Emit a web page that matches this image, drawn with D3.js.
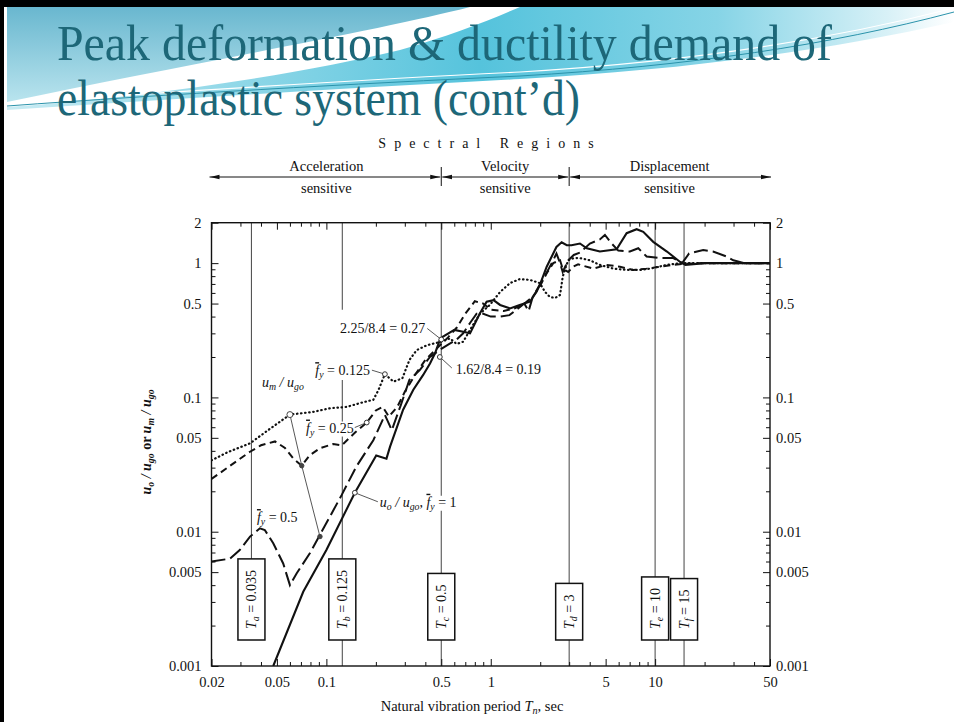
<!DOCTYPE html>
<html>
<head>
<meta charset="utf-8">
<script src="https://cdn.jsdelivr.net/npm/d3@7/dist/d3.min.js"></script>
<style>
body { margin: 0; background: #fff; }
svg { display: block; }
text { font-family: "Liberation Serif", "Times New Roman", serif; fill: #111; }
</style>
</head>
<body>
<script>
// tick labels
var xTickLabels = [0.02, 0.05, 0.1, 0.5, 1, 5, 10, 50];
var yTickLabels = [0.001, 0.005, 0.01, 0.05, 0.1, 0.5, 1, 2];

// spectral regions (split at Tc and Td)
var regionBounds = [0.5, 3];
var regionTop = ["Acceleration", "Velocity", "Displacement"];
var regionBottom = ["sensitive", "sensitive", "sensitive"];

// periods marked on the chart
var periodNames = ["a", "b", "c", "d", "e", "f"];
var periodValues = [0.035, 0.125, 0.5, 3, 10, 15];
var periodLabels = ["0.035", "0.125", "0.5", "3", "10", "15"];

// curves: [Tn (sec), deformation ratio]
// u_o / u_go, fy = 1 (solid)
var elastic = [[0.0475,0.001],[0.0723,0.00357],[0.10,0.0073],[0.149,0.0195],[0.201,0.037],[0.232,0.035],
  [0.244,0.043],[0.293,0.081],[0.338,0.114],[0.388,0.147],[0.427,0.179],[0.458,0.213],[0.49,0.267],[0.51,0.283],
  [0.60,0.318],[0.68,0.308],[0.748,0.30],[0.86,0.423],[0.944,0.516],[1.04,0.53],[1.14,0.488],[1.31,0.46],
  [1.5,0.488],[1.73,0.516],[1.90,0.612],[1.99,0.69],[2.19,0.94],[2.51,1.32],[2.70,1.43],[2.90,1.36],[3.10,1.36],
  [3.49,1.40],[3.84,1.29],[4.61,1.22],[5.83,1.27],[6.71,1.67],[7.72,1.79],[8.47,1.71],[9.74,1.44],[11.8,1.22],
  [14.2,1.02],[15.3,0.97],[20,1.0],[50,1.0]];
// u_m / u_go, fy = 0.5 (long dash)
var fy050 = [[0.02,0.006],[0.0259,0.0063],[0.0297,0.0073],[0.0343,0.0092],[0.0394,0.0106],[0.0422,0.0103],
  [0.0475,0.0082],[0.0546,0.0058],[0.060,0.004],[0.066,0.0049],[0.0793,0.0069],[0.10,0.0116],[0.124,0.0188],
  [0.152,0.0305],[0.193,0.048],[0.227,0.074],[0.25,0.057],[0.283,0.087],[0.32,0.135],[0.37,0.16],[0.427,0.20],
  [0.5,0.23],[0.56,0.25],[0.62,0.27],[0.68,0.3],[0.75,0.36],[0.82,0.42],[0.9,0.42],[1.0,0.4],[1.15,0.4],
  [1.3,0.41],[1.5,0.47],[1.6,0.5],[1.7,0.44],[1.8,0.56],[2.0,0.7],[2.2,0.86],[2.4,1.05],[2.51,1.18],[2.64,1.0],
  [2.74,0.86],[2.96,1.05],[3.2,1.15],[3.5,1.2],[4.01,1.40],[4.61,1.5],[4.95,1.62],[5.44,1.40],[5.97,1.24],
  [7.03,1.22],[7.9,1.29],[8.88,1.12],[10.7,1.09],[12.9,1.09],[14.6,1.0],[16.1,1.18],[19.6,1.25],[22.5,1.22],
  [27.2,1.12],[29.9,1.05],[35,1.0],[50,1.0]];
// u_m / u_go, fy = 0.25 (short dash)
var fy025 = [[0.02,0.0247],[0.026,0.031],[0.0343,0.0394],[0.04,0.044],[0.0487,0.047],[0.056,0.042],[0.063,0.035],
  [0.0708,0.031],[0.079,0.037],[0.0914,0.0418],[0.11,0.045],[0.124,0.044],[0.15,0.055],[0.176,0.065],[0.2,0.08],
  [0.22,0.085],[0.24,0.072],[0.27,0.085],[0.3,0.11],[0.35,0.15],[0.4,0.19],[0.45,0.22],[0.5,0.25],[0.55,0.28],
  [0.62,0.33],[0.7,0.42],[0.8,0.52],[0.9,0.5],[1.0,0.45],[1.2,0.44],[1.4,0.46],[1.6,0.5],[1.8,0.56],[2.0,0.68],
  [2.2,0.85],[2.4,1.0],[2.64,1.05],[2.74,0.91],[2.96,0.86],[3.17,0.94],[3.4,0.98],[4.21,0.91],[5.06,0.97],
  [6.11,0.94],[7.36,0.89],[8.88,0.91],[10.7,0.94],[12.9,0.97],[15,0.99],[20,1.0],[50,1.0]];
// u_m / u_go, fy = 0.125 (dotted)
var fy0125 = [[0.02,0.034],[0.025,0.039],[0.0343,0.0455],[0.045,0.058],[0.06,0.0745],[0.083,0.078],[0.105,0.083],
  [0.133,0.085],[0.167,0.092],[0.193,0.096],[0.207,0.113],[0.227,0.149],[0.256,0.131],[0.29,0.139],[0.32,0.19],
  [0.354,0.225],[0.41,0.245],[0.5,0.26],[0.565,0.275],[0.62,0.25],[0.68,0.26],[0.75,0.32],[0.86,0.42],
  [0.99,0.49],[1.14,0.61],[1.31,0.71],[1.5,0.76],[1.73,0.75],[1.99,0.71],[2.14,0.61],[2.29,0.56],[2.46,0.55],
  [2.64,0.58],[2.74,0.79],[2.84,0.91],[2.96,1.05],[3.2,1.09],[3.49,1.09],[4.01,1.05],[4.61,0.97],[5.57,0.91],
  [6.71,0.89],[8.09,0.89],[9.3,0.91],[11.8,0.97],[14.2,1.0],[50,1.0]];

// thin line joining the three yield cases at short period
var connector = [[0.06,0.0745],[0.0708,0.031],[0.0914,0.0092]];
// labelled points
var ptFy0125 = [0.227, 0.149];
var ptFy025 = [0.176, 0.065];
var ptFy1 = [0.149, 0.0195];
var ptRatio027 = [0.5, 0.27];
var ptRatio019 = [0.49, 0.2];

var W = 954, H = 722;
var margin = { top: 222.7, right: 184, bottom: 56, left: 211.5 },
    width = W - margin.left - margin.right,
    height = H - margin.top - margin.bottom;

var svg = d3.select("body").append("svg").attr("width", W).attr("height", H);
var defs = svg.append("defs");

// ---- slide decoration ----
var gl = defs.append("linearGradient").attr("id", "gLeft").attr("x1", 0).attr("y1", 0).attr("x2", 0).attr("y2", 1);
gl.append("stop").attr("offset", 0).attr("stop-color", "#69b7cf");
gl.append("stop").attr("offset", 1).attr("stop-color", "#b9e4ee");
var gr = defs.append("linearGradient").attr("id", "gRight").attr("x1", 0).attr("y1", 0).attr("x2", 1).attr("y2", 0);
gr.append("stop").attr("offset", 0).attr("stop-color", "#c8ebf3");
gr.append("stop").attr("offset", 0.5).attr("stop-color", "#55c3dc");
gr.append("stop").attr("offset", 0.75).attr("stop-color", "#86d4e6");
gr.append("stop").attr("offset", 0.93).attr("stop-color", "#d8f1f7");
gr.append("stop").attr("offset", 1).attr("stop-color", "#ffffff");

svg.append("path")
    .attr("d", "M7,7 L470,7 C380,30 200,62 7,102 Z")
    .attr("fill", "url(#gLeft)");
svg.append("path")
    .attr("d", "M520,7 L954,7 L954,22 C820,52 680,70 520,79 C350,88 170,99 7,110 L7,107 C150,97 300,74 400,50 C450,36 490,20 520,7 Z")
    .attr("fill", "url(#gRight)");
svg.append("path")
    .attr("d", "M7,106 C170,94 350,84 520,76 C690,66 830,45 954,12")
    .attr("fill", "none").attr("stroke", "#2b93ab").attr("stroke-width", 1);
svg.append("path")
    .attr("d", "M7,103 C170,92 350,80 520,72 C690,62 830,40 954,8")
    .attr("fill", "none").attr("stroke", "#ffffff").attr("stroke-width", 1.2);

// border
svg.append("rect").attr("x", 0).attr("y", 0).attr("width", W).attr("height", 7).attr("fill", "#000");
svg.append("rect").attr("x", 0).attr("y", 0).attr("width", 4).attr("height", H).attr("fill", "#000");

// title
svg.append("text").attr("x", 57).attr("y", 60)
    .attr("font-size", 50).attr("textLength", 775).attr("lengthAdjust", "spacingAndGlyphs")
    .style("fill", "#1d6778")
    .text("Peak deformation & ductility demand of");
svg.append("text").attr("x", 57).attr("y", 115)
    .attr("font-size", 50).attr("textLength", 523).attr("lengthAdjust", "spacingAndGlyphs")
    .style("fill", "#1d6778")
    .text("elastoplastic system (cont\u2019d)");

// ---- chart ----
var x = d3.scaleLog().domain([0.02, 50]).range([0, width]);
var y = d3.scaleLog().domain([0.001, 2]).range([height, 0]);

var g = svg.append("g").attr("transform", "translate(" + margin.left + "," + margin.top + ")");

// rich text helper: parts = [text, flags]  i=italic s=subscript o=overline
function rich(t, parts) {
    var shift = 0;
    parts.forEach(function (p) {
        var f = p[1] || "";
        var ts = t.append("tspan").text(p[0]);
        if (f.indexOf("i") >= 0) ts.attr("font-style", "italic");
        if (f.indexOf("o") >= 0) ts.style("text-decoration", "overline");
        var target = f.indexOf("s") >= 0 ? 3 : 0;
        if (target !== shift) { ts.attr("dy", target - shift); shift = target; }
        if (f.indexOf("s") >= 0) ts.attr("font-size", "0.7em");
    });
    return t;
}

// spectral regions header
var hdr = svg.append("g");
var bx = [x.range()[0], x(regionBounds[0]), x(regionBounds[1]), x.range()[1]].map(function (v) { return v + margin.left; });
var arrowY = 177;
defs.append("marker").attr("id", "ah").attr("viewBox", "0 0 10 6").attr("refX", 10).attr("refY", 3)
    .attr("markerWidth", 10).attr("markerHeight", 6).attr("markerUnits", "userSpaceOnUse")
    .attr("orient", "auto-start-reverse")
    .append("path").attr("d", "M0,0.8 L10,3 L0,5.2 Z").attr("fill", "#111");
for (var i = 0; i < 3; i++) {
    hdr.append("line").attr("x1", bx[i] + (i ? 1 : -2)).attr("x2", bx[i + 1] - (i < 2 ? 1 : -1))
        .attr("y1", arrowY).attr("y2", arrowY)
        .attr("stroke", "#111").attr("stroke-width", 1)
        .attr("marker-start", "url(#ah)").attr("marker-end", "url(#ah)");
    var cx = (bx[i] + bx[i + 1]) / 2;
    hdr.append("text").attr("x", cx).attr("y", 171).attr("text-anchor", "middle").attr("font-size", 14.5).text(regionTop[i]);
    hdr.append("text").attr("x", cx).attr("y", 193).attr("text-anchor", "middle").attr("font-size", 14.5).text(regionBottom[i]);
}
[bx[1], bx[2]].forEach(function (v) {
    hdr.append("line").attr("x1", v).attr("x2", v).attr("y1", 167).attr("y2", 186).attr("stroke", "#111").attr("stroke-width", 1);
});
hdr.append("text").attr("x", 490).attr("y", 148).attr("text-anchor", "middle")
    .attr("font-size", 14).attr("letter-spacing", 8).text("Spectral Regions");

// period lines and boxes
var boxBottom = 640 - margin.top;
var pg = g.append("g");
periodValues.forEach(function (p, i) {
    var px = x(p);
    var t = pg.append("text").attr("font-size", 14)
        .attr("transform", "translate(" + (px + 5) + "," + boxBottom + ") rotate(-90)");
    rich(t, [["T", "i"], [periodNames[i], "is"], [" = " + periodLabels[i], ""]]);
    var len = t.node().getComputedTextLength();
    var boxTop = boxBottom - len - 22;
    t.attr("transform", "translate(" + (px + 5) + "," + (boxBottom - 11) + ") rotate(-90)");
    // line segments
    var segs;
    if (periodNames[i] === "b") segs = [[0, y(0.45)], [y(0.135), boxTop], [boxBottom, height]];
    else if (periodNames[i] === "a") segs = [[0, boxTop]];
    else segs = [[0, boxTop], [boxBottom, height]];
    segs.forEach(function (s) {
        pg.insert("line", "text").attr("x1", px).attr("x2", px).attr("y1", s[0]).attr("y2", s[1])
            .attr("stroke", "#555").attr("stroke-width", 1.1);
    });
    pg.insert("rect", "text").attr("x", px - 13.5).attr("y", boxTop).attr("width", 27).attr("height", boxBottom - boxTop)
        .attr("fill", "#fff").attr("stroke", "#111").attr("stroke-width", 1.5);
});

// axes
var allX = x.ticks(), allY = y.ticks();
function isLab(arr, d) { return arr.some(function (v) { return Math.abs(v - d) / v < 1e-6; }); }
function fmt(arr) { return function (d) { return isLab(arr, d) ? String(+d.toPrecision(3)) : ""; }; }

var axB = g.append("g").attr("transform", "translate(0," + height + ")")
    .call(d3.axisBottom(x).tickValues(allX).tickSizeInner(-4).tickSizeOuter(0).tickPadding(11).tickFormat(fmt(xTickLabels)));
var axT = g.append("g")
    .call(d3.axisTop(x).tickValues(allX).tickSizeInner(-4).tickSizeOuter(0).tickFormat(""));
var axL = g.append("g")
    .call(d3.axisLeft(y).tickValues(allY).tickSizeInner(-4).tickSizeOuter(0).tickPadding(10).tickFormat(fmt(yTickLabels)));
var axR = g.append("g").attr("transform", "translate(" + width + ",0)")
    .call(d3.axisRight(y).tickValues(allY).tickSizeInner(-4).tickSizeOuter(0).tickPadding(6).tickFormat(fmt(yTickLabels)));
[axB, axT, axL, axR].forEach(function (a) {
    a.select(".domain").remove();
    a.selectAll("text").attr("font-size", 14.5).attr("font-family", "Liberation Serif").style("fill", "#111");
    a.selectAll("line").attr("stroke", "#111");
});
axB.selectAll(".tick line").attr("y2", function (d) { return isLab(xTickLabels, d) ? -7 : -4; });
axT.selectAll(".tick line").attr("y2", function (d) { return isLab(xTickLabels, d) ? 7 : 4; });
axL.selectAll(".tick line").attr("x2", function (d) { return isLab(yTickLabels, d) ? 7 : 4; });
axR.selectAll(".tick line").attr("x2", function (d) { return isLab(yTickLabels, d) ? -7 : -4; });

g.append("rect").attr("width", width).attr("height", height)
    .attr("fill", "none").attr("stroke", "#111").attr("stroke-width", 1.4);

// labels with white knock-out
var labels = g.append("g");
function label(px, py, anchor, parts) {
    var t = labels.append("text").attr("x", px).attr("y", py).attr("text-anchor", anchor).attr("font-size", 14);
    rich(t, parts);
    var b = t.node().getBBox();
    labels.insert("rect", "text").attr("x", b.x - 1).attr("y", b.y + 1).attr("width", b.width + 2).attr("height", b.height - 2).attr("fill", "#fff");
    return t;
}

// curves
defs.append("clipPath").attr("id", "plotClip").append("rect").attr("width", width).attr("height", height);
var line = d3.line().x(function (d) { return x(d[0]); }).y(function (d) { return y(d[1]); });
var curves = g.append("g").attr("clip-path", "url(#plotClip)");
curves.append("path").datum(fy0125).attr("d", line).attr("fill", "none").attr("stroke", "#111")
    .attr("stroke-width", 2.2).attr("stroke-dasharray", "0.5,3.6").attr("stroke-linecap", "round");
curves.append("path").datum(fy025).attr("d", line).attr("fill", "none").attr("stroke", "#111")
    .attr("stroke-width", 2).attr("stroke-dasharray", "7,4.5");
curves.append("path").datum(fy050).attr("d", line).attr("fill", "none").attr("stroke", "#111")
    .attr("stroke-width", 2).attr("stroke-dasharray", "14,5");
curves.append("path").datum(elastic).attr("d", line).attr("fill", "none").attr("stroke", "#111")
    .attr("stroke-width", 2.1);

// connector and markers
g.append("path").datum(connector).attr("d", line).attr("fill", "none").attr("stroke", "#444").attr("stroke-width", 0.9);
g.selectAll(".conn").data(connector).enter().append("circle")
    .attr("cx", function (d) { return x(d[0]); }).attr("cy", function (d) { return y(d[1]); })
    .attr("r", function (d, i) { return i ? 2.2 : 3; })
    .attr("fill", function (d, i) { return i ? "#444" : "#fff"; }).attr("stroke", "#444").attr("stroke-width", 1);

// annotations
function leader(p, px, py) {
    g.append("line").attr("x1", px).attr("y1", py).attr("x2", x(p[0])).attr("y2", y(p[1]))
        .attr("stroke", "#444").attr("stroke-width", 0.9);
    g.append("circle").attr("cx", x(p[0])).attr("cy", y(p[1])).attr("r", 2.4)
        .attr("fill", "#fff").attr("stroke", "#333").attr("stroke-width", 1);
}
leader(ptFy0125, x(ptFy0125[0]) - 13, y(ptFy0125[1]) - 4);
leader(ptFy025, x(ptFy025[0]) - 12, y(ptFy025[1]) + 5);
leader(ptFy1, x(ptFy1[0]) + 23, y(ptFy1[1]) + 9);
leader(ptRatio027, x(ptRatio027[0]) - 14, y(ptRatio027[1]) - 11);
leader(ptRatio019, x(ptRatio019[0]) + 12, y(ptRatio019[1]) + 11);

label(x(ptFy0125[0]) - 15, y(ptFy0125[1]) + 1, "end", [["f", "io"], ["y", "is"], [" = 0.125", ""]]);
label(x(ptFy025[0]) - 13, y(ptFy025[1]) + 10, "end", [["f", "io"], ["y", "is"], [" = 0.25", ""]]);
label(x(0.0378), y(0.0118), "start", [["f", "io"], ["y", "is"], [" = 0.5", ""]]);
label(x(ptFy1[0]) + 25, y(ptFy1[1]) + 14, "start", [["u", "i"], ["o", "is"], [" / ", "i"], ["u", "i"], ["go", "is"], [", ", ""], ["f", "io"], ["y", "is"], [" = 1", ""]]);
label(x(ptRatio027[0]) - 16, y(ptRatio027[1]) - 6, "end", [["2.25/8.4 = 0.27", ""]]);
label(x(ptRatio019[0]) + 16, y(ptRatio019[1]) + 17, "start", [["1.62/8.4 = 0.19", ""]]);
label(x(0.0406), y(0.12), "start", [["u", "i"], ["m", "is"], [" / ", "i"], ["u", "i"], ["go", "is"]]);

// axis titles
var yt = svg.append("text").attr("font-size", 14).attr("font-weight", "bold").attr("text-anchor", "middle")
    .attr("transform", "translate(151,442) rotate(-90)");
rich(yt, [["u", "i"], ["o", "is"], [" / ", "i"], ["u", "i"], ["go", "is"], [" or ", ""], ["u", "i"], ["m", "is"], [" / ", "i"], ["u", "i"], ["go", "is"]]);
var xt = svg.append("text").attr("x", 472).attr("y", 711).attr("font-size", 14.5).attr("text-anchor", "middle");
rich(xt, [["Natural vibration period ", ""], ["T", "i"], ["n", "is"], [", sec", ""]]);
</script>
</body>
</html>
